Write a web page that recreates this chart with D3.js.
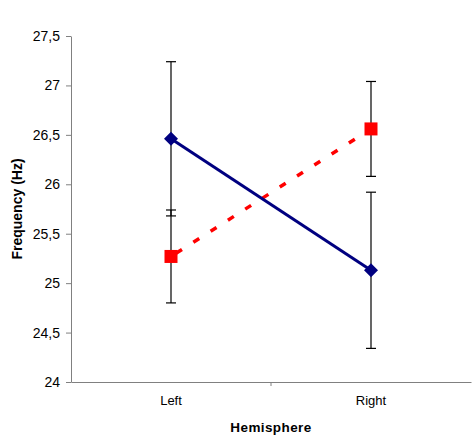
<!DOCTYPE html>
<html>
<head>
<meta charset="utf-8">
<script src="https://cdn.jsdelivr.net/npm/d3@7"></script>
<style>
  body { margin: 0; background: #fff; }
  svg text { font-family: "Liberation Sans", Arial, sans-serif; }
</style>
</head>
<body>
<svg id="chart" width="473" height="437"></svg>
<script>
// data
var categories = ["Left", "Right"];
var blueMeans = [26.46, 25.13];
var blueErr = [0.78, 0.79];
var redMeans = [25.27, 26.56];
var redErr = [0.47, 0.48];
var yTicks = [24, 24.5, 25, 25.5, 26, 26.5, 27, 27.5];

var margin = {left: 71, right: 2, top: 36, bottom: 55};
var width = 473, height = 437;

var svg = d3.select("#chart");

var x = d3.scaleBand()
    .domain(categories)
    .range([margin.left, width - margin.right]);

var y = d3.scaleLinear()
    .domain([24, 27.5])
    .range([height - margin.bottom, margin.top]);

var fmt = function(d){ return String(d).replace(".", ","); };

// y axis
var yAxis = svg.append("g")
    .attr("transform", "translate(" + margin.left + ",0)")
    .call(d3.axisLeft(y).tickValues(yTicks).tickFormat(fmt).tickSize(5).tickSizeOuter(0));
yAxis.select(".domain").attr("stroke", "#808080");
yAxis.selectAll(".tick line").attr("stroke", "#808080");
yAxis.selectAll(".tick text").attr("font-size", "14px").attr("fill", "#000").attr("x", -11);

// x axis
var xAxis = svg.append("g")
    .attr("transform", "translate(0," + y(24) + ")")
    .call(d3.axisBottom(x).tickSize(0).tickSizeOuter(0));
xAxis.select(".domain").attr("stroke", "#808080");
xAxis.selectAll(".tick text").attr("font-size", "13px").attr("fill", "#000").attr("dy", "1.55em");
// tick between categories
xAxis.append("line")
    .attr("x1", x("Right")).attr("x2", x("Right"))
    .attr("y1", 0).attr("y2", 4)
    .attr("stroke", "#808080");

// axis titles
svg.append("text")
    .attr("x", x("Right"))
    .attr("y", 432)
    .attr("text-anchor", "middle")
    .attr("font-size", "13.5px")
    .attr("font-weight", "bold")
    .attr("letter-spacing", "0.4px")
    .text("Hemisphere");

svg.append("text")
    .attr("transform", "translate(22," + ((y(24) + y(27.5)) / 2) + ") rotate(-90)")
    .attr("text-anchor", "middle")
    .attr("font-size", "14px")
    .attr("font-weight", "bold")
    .text("Frequency (Hz)");

var cx = function(i){ return x(categories[i]) + x.bandwidth() / 2; };

// error bars
function errBars(means, errs) {
    var g = svg.append("g").attr("stroke", "#000").attr("stroke-width", 1.2);
    means.forEach(function(m, i) {
        var xc = cx(i);
        g.append("line").attr("x1", xc).attr("x2", xc).attr("y1", y(m - errs[i])).attr("y2", y(m + errs[i]));
        [m - errs[i], m + errs[i]].forEach(function(v) {
            g.append("line").attr("x1", xc - 5).attr("x2", xc + 5).attr("y1", y(v)).attr("y2", y(v));
        });
    });
}
errBars(blueMeans, blueErr);
errBars(redMeans, redErr);

var line = d3.line().x(function(d, i){ return cx(i); }).y(function(d){ return y(d); });

// red dashed series
svg.append("path")
    .datum(redMeans)
    .attr("d", line)
    .attr("fill", "none")
    .attr("stroke", "#ff0000")
    .attr("stroke-width", 3.5)
    .attr("stroke-dasharray", "7,13.5")
    .attr("stroke-dashoffset", -6);

svg.selectAll(".sq")
    .data(redMeans)
    .enter()
    .append("rect")
    .attr("class", "sq")
    .attr("x", function(d, i){ return cx(i) - 6.5; })
    .attr("y", function(d){ return y(d) - 6.5; })
    .attr("width", 13)
    .attr("height", 13)
    .attr("fill", "#ff0000");

// blue series
svg.append("path")
    .datum(blueMeans)
    .attr("d", line)
    .attr("fill", "none")
    .attr("stroke", "#000080")
    .attr("stroke-width", 3);

svg.selectAll(".dia")
    .data(blueMeans)
    .enter()
    .append("path")
    .attr("class", "dia")
    .attr("d", function(d, i){
        var xc = cx(i), yc = y(d), r = 7;
        return "M" + xc + "," + (yc - r) + "L" + (xc + r) + "," + yc + "L" + xc + "," + (yc + r) + "L" + (xc - r) + "," + yc + "Z";
    })
    .attr("fill", "#000080");
</script>
</body>
</html>
